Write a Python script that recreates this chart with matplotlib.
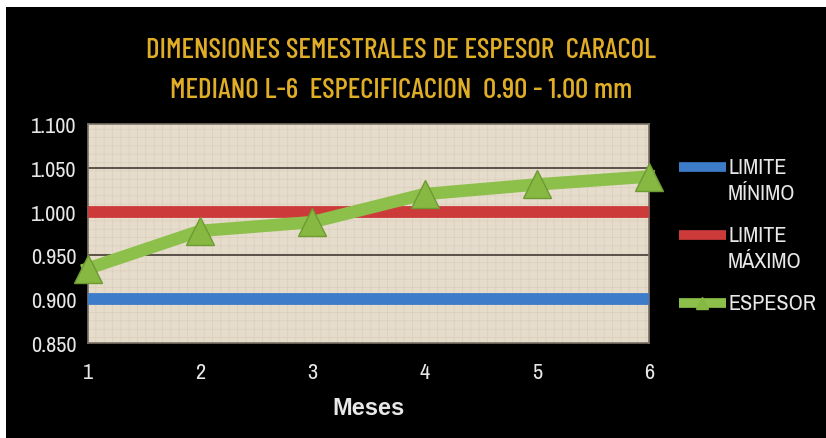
import matplotlib
matplotlib.use("Agg")
import matplotlib.pyplot as plt
from matplotlib.patches import Rectangle
from matplotlib.lines import Line2D
from matplotlib import font_manager

meses = [1, 2, 3, 4, 5, 6]
limite_minimo = [0.900, 0.900, 0.900, 0.900, 0.900, 0.900]
limite_maximo = [1.000, 1.000, 1.000, 1.000, 1.000, 1.000]
espesor = [0.935, 0.978, 0.988, 1.020, 1.031, 1.040]
yticks = [0.850, 0.900, 0.950, 1.000, 1.050, 1.100]
ytick_labels = ["0.850", "0.900", "0.950", "1.000", "1.050", "1.100"]
title_lines = ["DIMENSIONES SEMESTRALES DE ESPESOR  CARACOL",
               "MEDIANO L-6  ESPECIFICACION  0.90 - 1.00 mm"]
series_names = [("LIMITE", "MÍNIMO"), ("LIMITE", "MÁXIMO"), ("ESPESOR", "")]
series_colors = ["#3d7cc9", "#cc3a3a", "#8cc04a"]

names = {f.name for f in font_manager.fontManager.ttflist}
def pick(cands):
    for c in cands:
        if c in names:
            return c
    return "DejaVu Sans"
narrow = pick(["Liberation Sans Narrow", "Archivo Narrow", "Barlow Semi Condensed", "Asap Condensed"])
title_font = pick(["Barlow Condensed", "Asap Condensed", "Archivo Narrow", "Liberation Sans Narrow"])

plt.rcParams["hatch.linewidth"] = 0.5
W, H = 826, 439
fig = plt.figure(figsize=(W / 100, H / 100), dpi=100)
fig.patch.set_facecolor("white")
fig.patches.append(Rectangle((6 / W, 0), 1 - 6 / W, 1 - 8 / H, transform=fig.transFigure,
                             facecolor="black", edgecolor="none", zorder=-5))

ax = fig.add_axes([88 / W, 1 - 344 / H, (649 - 88) / W, (344 - 125) / H])
ax.set_zorder(2)
ax.set_facecolor("#e6dccb")
ax.add_patch(Rectangle((0, 0), 1, 1, transform=ax.transAxes, facecolor="none",
                       edgecolor="#dbcfbb", hatch="++", lw=0, zorder=0.5))
ax.set_xlim(1, 6)
ax.set_ylim(0.85, 1.1)
for y in [0.9, 0.95, 1.0, 1.05]:
    ax.axhline(y, color="#5a5248", lw=1.4, zorder=1)

ax.plot(meses, limite_minimo, color=series_colors[0], lw=8.5, solid_capstyle="butt", zorder=3)
ax.plot(meses, limite_maximo, color=series_colors[1], lw=8.5, solid_capstyle="butt", zorder=3)
ax.plot(meses, espesor, color=series_colors[2], lw=9, zorder=4, clip_on=False,
        marker="^", markersize=20, markerfacecolor="#86b842", markeredgecolor="#6e9a34",
        markeredgewidth=1)

for s in ax.spines.values():
    s.set_color("#7a7266")
    s.set_linewidth(1.2)

ax.set_xticks(meses)
ax.set_xticklabels([str(m) for m in meses])
ax.set_yticks(yticks)
ax.set_yticklabels(ytick_labels)
ax.tick_params(axis="both", length=0, colors="#e8e8e8")
ax.tick_params(axis="x", pad=14)
ax.tick_params(axis="y", pad=8)
for lbl in ax.get_xticklabels() + ax.get_yticklabels():
    lbl.set_fontfamily(narrow)
    lbl.set_fontsize(16)

ax.set_xlabel("Meses", color="#e8e8e8", fontsize=17, fontweight="bold",
              fontfamily="Liberation Sans", labelpad=10)

fig.text(401 / W, 1 - 51 / H, title_lines[0], ha="center", va="center",
         color="#e0ae26", fontsize=21, fontfamily=title_font, fontweight="medium")
fig.text(401 / W, 1 - 91 / H, title_lines[1], ha="center", va="center",
         color="#e0ae26", fontsize=21, fontfamily=title_font, fontweight="medium")

# legend drawn by hand (handle aligned with the first text line)
leg_y = [168, 236, 304]
for (l1, l2), c, yy in zip(series_names, series_colors, leg_y):
    yf = 1 - yy / H
    fig.add_artist(Line2D([679 / W, 726 / W], [yf, yf], transform=fig.transFigure,
                          color=c, lw=7, solid_capstyle="butt"))
    if c == series_colors[2]:
        fig.add_artist(Line2D([702 / W], [yf], transform=fig.transFigure, marker="^",
                              markersize=8, color="#86b842", lw=0))
    fig.text(728 / W, yf, l1, ha="left", va="center", color="#e8e8e8",
             fontsize=16, fontfamily=narrow)
    if l2:
        fig.text(728 / W, 1 - (yy + 26) / H, l2, ha="left", va="center", color="#e8e8e8",
                 fontsize=16, fontfamily=narrow)

fig.savefig("out.png", dpi=100, facecolor=fig.get_facecolor())
